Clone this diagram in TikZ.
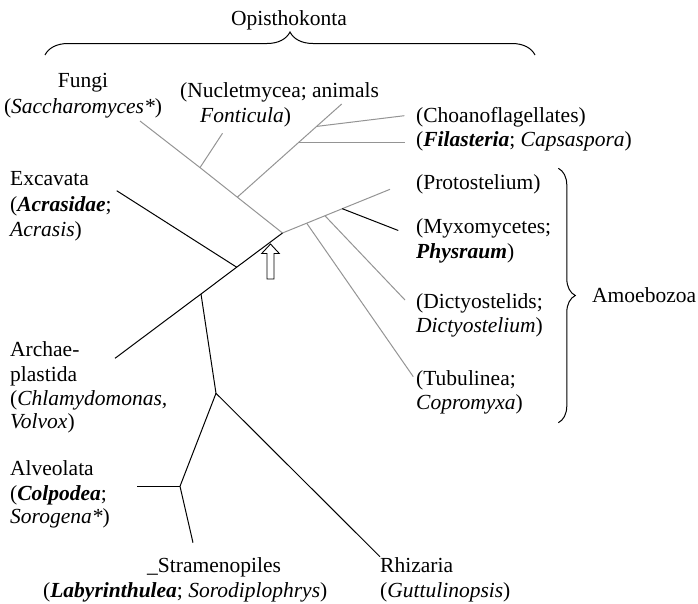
\documentclass[tikz,border=0pt]{standalone}
\usepackage{fontspec}
\setmainfont{Liberation Serif}
\usetikzlibrary{decorations.pathreplacing}
\newcommand{\bi}[1]{\textbf{\textit{#1}}}
\begin{document}
\begin{tikzpicture}[x=1pt,y=-1pt,
  lbl/.style={font=\fontsize{21.5}{25}\selectfont, inner sep=0pt, align=left, anchor=base west},
  clbl/.style={lbl, align=center, anchor=base},
  blk/.style={line width=1pt, black},
  gry/.style={line width=1pt, black!42},
  brc/.style={decorate, decoration={brace, amplitude=#1}, line width=1pt},
  hollowarrow/.style={line width=0.9pt, fill=white},
]
\useasboundingbox (0,0) rectangle (698,603);

% ---------- junctions and leaf ends ----------
\coordinate (A) at (282.5,233);
\coordinate (fungiEnd) at (140,121);
\coordinate (nucJ) at (200,167.6);
\coordinate (nucEnd) at (222.5,133.3);
\coordinate (animJ) at (237.3,197.2);
\coordinate (animEnd) at (341.7,104);
\coordinate (filJ) at (298.3,142.7);
\coordinate (filEnd) at (405,142.7);
\coordinate (choJ) at (316.7,126.4);
\coordinate (choEnd) at (404.3,115.7);
\coordinate (proEnd) at (390,189.3);
\coordinate (myxJ) at (342.3,208.7);
\coordinate (myxEnd) at (398.3,230.5);
\coordinate (dicJ) at (325,215.8);
\coordinate (dicEnd) at (405,300);
\coordinate (tubJ) at (306.7,223.2);
\coordinate (tubEnd) at (413.3,376.7);
\coordinate (excJ) at (236.7,267.2);
\coordinate (excEnd) at (116.7,190.7);
\coordinate (archJ) at (201,294);
\coordinate (archEnd) at (115,358.3);
\coordinate (rJ) at (216,393.3);
\coordinate (rhizEnd) at (380,556.7);
\coordinate (alvJ) at (180,486.3);
\coordinate (alvEnd) at (136.7,486.3);
\coordinate (strEnd) at (193,542.7);

% ---------- grey branches (Opisthokonta, Amoebozoa) ----------
\draw[gry] (A) -- (nucJ) -- (fungiEnd);
\draw[gry] (nucJ) -- (nucEnd);
\draw[gry] (animJ) -- (animEnd);
\draw[gry] (filJ) -- (filEnd);
\draw[gry] (choJ) -- (choEnd);
\draw[gry] (A) -- (proEnd);
\draw[gry] (dicJ) -- (dicEnd);
\draw[gry] (tubJ) -- (tubEnd);

% ---------- black branches ----------
\draw[blk] (myxJ) -- (myxEnd);
\draw[blk] (A) -- (excJ) -- (archJ) -- (archEnd);
\draw[blk] (excJ) -- (excEnd);
\draw[blk] (archJ) -- (rJ) -- (rhizEnd);
\draw[blk] (rJ) -- (alvJ) -- (strEnd);
\draw[blk] (alvJ) -- (alvEnd);

% ---------- hollow arrow ----------
\draw[hollowarrow] (270.5,244) -- (279.3,253.5) -- (274,253.5) -- (274,279) -- (267,279)
   -- (267,253.5) -- (261.7,253.5) -- cycle;

% ---------- braces ----------
\coordinate (opL) at (45,55);
\coordinate (opR) at (535,55);
\draw[brc=23pt] (opL) -- (opR);
\coordinate (amT) at (558.3,168.3);
\coordinate (amB) at (558.3,422.7);
\draw[brc=17pt] (amT) -- (amB);

% ---------- labels (anchored at the baseline of their last line) ----------
\node[clbl] (opis) at (289,25) {Opisthokonta};
\node[clbl] (fungi) at (83,113) {Fungi\\[1pt](\textit{Saccharomyces*})};
\node[lbl] (nuc) at (180,122) {(Nucletmycea; animals\\\hspace*{20pt}\textit{Fonticula})};
\node[lbl] (cho) at (416,146) {(Choanoflagellates)\\[-1pt](\bi{Filasteria}; \textit{Capsaspora})};
\node[lbl] (pro) at (416,189) {(Protostelium)};
\node[lbl] (myx) at (416,258) {(Myxomycetes;\\\bi{Physraum})};
\node[lbl] (dic) at (416,332) {(Dictyostelids;\\[-1pt]\textit{Dictyostelium})};
\node[lbl] (tub) at (416,409) {(Tubulinea;\\[-1pt]\textit{Copromyxa})};
\node[lbl] (amoeb) at (592,302) {Amoebozoa};
\node[lbl] (exc) at (10,236) {Excavata\\[1pt](\bi{Acrasidae};\\\textit{Acrasis})};
\node[lbl] (arch) at (10,428) {Archae-\\plastida\\[-1pt](\textit{Chlamydomonas,}\\[-2pt]\textit{Volvox})};
\node[lbl] (alv) at (10,523) {Alveolata\\(\bi{Colpodea};\\[-2pt]\textit{Sorogena*})};
\node[lbl] (str) at (43,597) {\hspace*{104pt}\_Stramenopiles\\(\bi{Labyrinthulea}; \textit{Sorodiplophrys})};
\node[lbl] (rhiz) at (380,597) {Rhizaria\\(\textit{Guttulinopsis})};
\end{tikzpicture}
\end{document}
